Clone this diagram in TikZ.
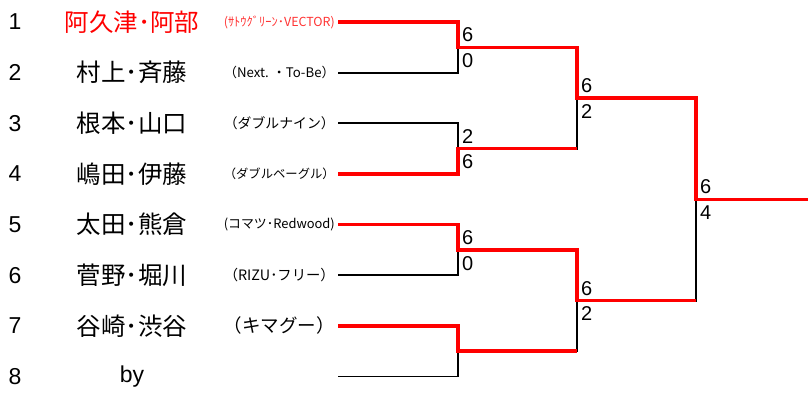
\documentclass[tikz,border=0pt]{standalone}
\usepackage{fontspec}
\usepackage{graphicx}
\setmainfont{Liberation Sans}
\newfontfamily\jpfont{Noto Sans CJK JP}

\def \loseWidth {1.8pt}
\def \winWidth {3.6pt}
\def \clubWidth {111pt}
\newcommand{\clubbox}[1]{\resizebox{\clubWidth}{!}{#1}}

\tikzset{
  lose/.style={draw=black, line width=\loseWidth},
  win/.style={draw=red, line width=\winWidth},
  seed/.style={font=\fontsize{23}{23}\selectfont},
  pair/.style={font=\jpfont\fontsize{24.5}{24.5}\selectfont},
  club/.style={anchor=east, inner sep=0pt, font=\jpfont\fontsize{18}{18}\selectfont},
  score/.style={font=\fontsize{20}{20}\selectfont, inner sep=0pt}
}

\begin{document}
\begin{tikzpicture}[x=1pt, y=-1pt]
         \useasboundingbox (0,0) rectangle (808,392);
         % seeds
         \node[seed] (n1) at (15,22) {1};
         \node[seed] (n2) at (15,72.65) {2};
         \node[seed] (n3) at (15,123.3) {3};
         \node[seed] (n4) at (15,173.95) {4};
         \node[seed] (n5) at (15,224.6) {5};
         \node[seed] (n6) at (15,275.25) {6};
         \node[seed] (n7) at (15,325.9) {7};
         \node[seed] (n8) at (15,376.55) {8};
         % pairs
         \node[pair, red] (p1) at (132,22) {阿久津･阿部};
         \node[pair] (p2) at (132,72.65) {村上･斉藤};
         \node[pair] (p3) at (132,123.3) {根本･山口};
         \node[pair] (p4) at (132,173.95) {嶋田･伊藤};
         \node[pair] (p5) at (132,224.6) {太田･熊倉};
         \node[pair] (p6) at (132,275.25) {菅野･堀川};
         \node[pair] (p7) at (132,325.9) {谷崎･渋谷};
         \node[seed] (p8) at (132,376.55) {by};
         % clubs
         \node[club, red!80] (c1) at (335,22) {\clubbox{(ｻﾄｳｸﾞﾘｰﾝ･VECTOR)}};
         \node[club] (c2) at (335,72.65) {\clubbox{（Next. ・To-Be）}};
         \node[club] (c3) at (335,123.3) {\clubbox{（ダブルナイン）}};
         \node[club] (c4) at (335,173.95) {\clubbox{（ダブルベーグル）}};
         \node[club] (c5) at (335,224.6) {\clubbox{(コマツ･Redwood)}};
         \node[club] (c6) at (335,275.25) {\clubbox{（RIZU･フリー）}};
         \node[club] (c7) at (335,325.9) {\clubbox{（キマグー）}};
         % bracket points
         \coordinate (t1) at (338,22);
         \coordinate (t2) at (338,72.65);
         \coordinate (t3) at (338,123.3);
         \coordinate (t4) at (338,173.95);
         \coordinate (t5) at (338,224.6);
         \coordinate (t6) at (338,275.25);
         \coordinate (t7) at (338,325.9);
         \coordinate (t8) at (338,376.55);
         \coordinate (m1) at (458,47.3);
         \coordinate (m2) at (458,148.6);
         \coordinate (m3) at (458,249.9);
         \coordinate (m4) at (458,351.2);
         \coordinate (s1) at (577,98);
         \coordinate (s2) at (577,300.6);
         \coordinate (f) at (696,199.3);
         \coordinate (champ) at (808,199.3);
         % losing lines
         \draw[lose] (t2) -| (m1);
         \draw[lose] (t3) -| (m2);
         \draw[lose] (m2) -| (s1);
         \draw[lose] (t6) -| (m3);
         \draw[lose] (t8) -| (m4);
         \draw[lose] (m4) -| (s2);
         \draw[lose] (s2) -| (f);
         % winning lines
         \draw[win] (t1) -| (m1) -| (s1) -| (f) -- (champ);
         \draw[win] (t4) -| (m2) -- (m2 -| s1);
         \draw[win] (t5) -| (m3) -| (s2) -- (s2 -| f);
         \draw[win] (t7) -| (m4) -- (m4 -| s2);
         % scores
         \node[score, anchor=south west] (m1a) at ([shift={(4,-5)}]m1) {6};
         \node[score, anchor=north west] (m1b) at ([shift={(4,6)}]m1) {0};
         \node[score, anchor=south west] (m2a) at ([shift={(4,-5)}]m2) {2};
         \node[score, anchor=north west] (m2b) at ([shift={(4,6)}]m2) {6};
         \node[score, anchor=south west] (m3a) at ([shift={(4,-5)}]m3) {6};
         \node[score, anchor=north west] (m3b) at ([shift={(4,6)}]m3) {0};
         \node[score, anchor=south west] (s1a) at ([shift={(4,-5)}]s1) {6};
         \node[score, anchor=north west] (s1b) at ([shift={(4,6)}]s1) {2};
         \node[score, anchor=south west] (s2a) at ([shift={(4,-5)}]s2) {6};
         \node[score, anchor=north west] (s2b) at ([shift={(4,6)}]s2) {2};
         \node[score, anchor=south west] (fa) at ([shift={(4,-5)}]f) {6};
         \node[score, anchor=north west] (fb) at ([shift={(4,6)}]f) {4};
      \end{tikzpicture}
\end{document}
